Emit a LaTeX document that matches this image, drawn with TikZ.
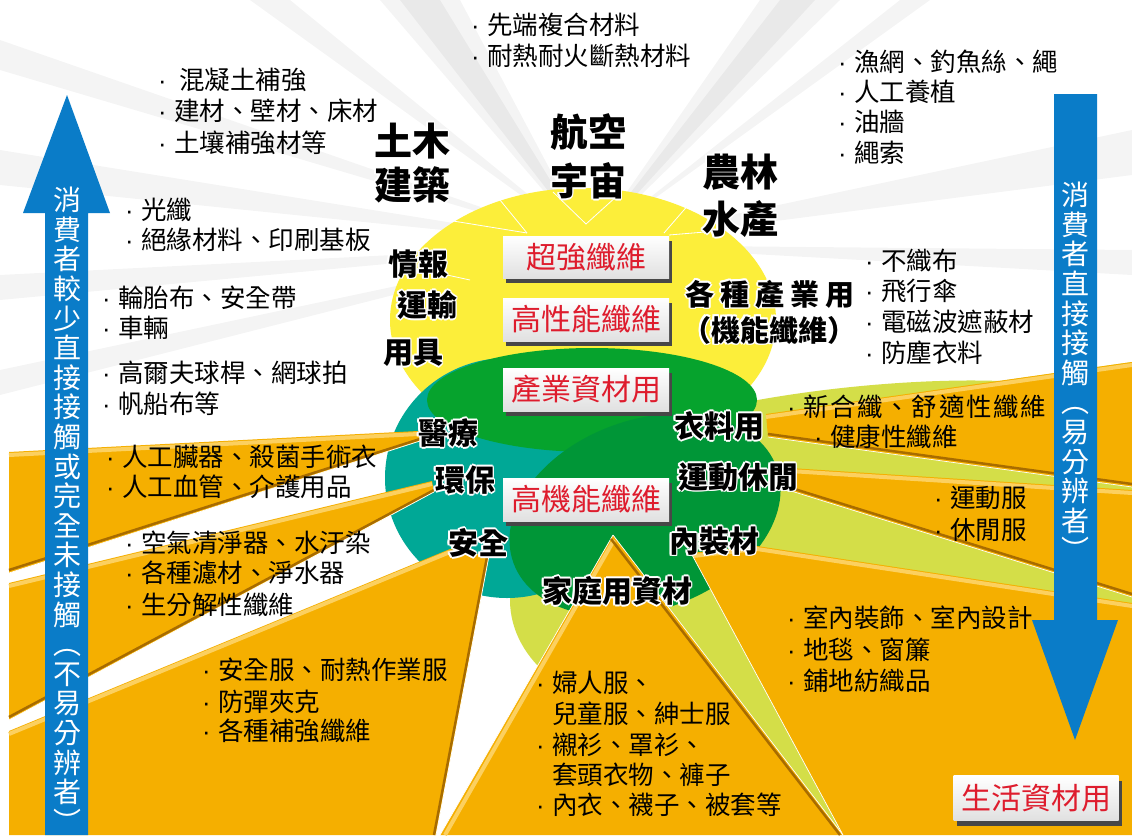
\documentclass[tikz,border=0pt]{standalone}
\usepackage{fontspec}
\setmainfont{Noto Sans CJK TC}
\newfontfamily\latinf{Liberation Sans}
\usetikzlibrary{shadows}
\definecolor{org}{RGB}{245,175,0}
\definecolor{orgl}{RGB}{252,208,95}
\definecolor{orgd}{RGB}{168,108,0}
\definecolor{yel}{RGB}{252,238,58}
\definecolor{grn}{RGB}{6,163,45}
\definecolor{dgrn}{RGB}{0,150,55}
\definecolor{tealc}{RGB}{0,168,150}
\definecolor{lgrn}{RGB}{212,222,72}
\definecolor{blu}{RGB}{10,124,200}
\definecolor{redt}{RGB}{222,28,45}
\newcommand\bul{\makebox[15pt][l]{\hspace{-1pt}{\latinf ·}}}
\newcommand\lsp{\hspace{1.7pt}}
\newcommand\ho[1]{\leavevmode\rlap{\textcolor{white}{%
\rlap{\kern1.7pt #1}\rlap{\kern-1.7pt #1}%
\rlap{\raisebox{1.7pt}{#1}}\rlap{\raisebox{-1.7pt}{#1}}%
\rlap{\kern1.2pt\raisebox{1.2pt}{#1}}\rlap{\kern-1.2pt\raisebox{1.2pt}{#1}}%
\rlap{\kern1.2pt\raisebox{-1.2pt}{#1}}\rlap{\kern-1.2pt\raisebox{-1.2pt}{#1}}}}#1}
\tikzset{
  txt/.style={anchor=west, inner sep=0pt, font=\fontsize{25.5}{30}\selectfont},
  lab/.style={inner sep=0pt, font=\fontsize{30}{36}\selectfont\bfseries},
  biglab/.style={inner sep=0pt, font=\fontsize{38}{44}\selectfont\bfseries},
  redbox/.style={top color=white, bottom color=black!12, text=redt,
    minimum width=166pt, minimum height=42pt, inner sep=0pt,
    font=\fontsize{30}{36}\selectfont,
    drop shadow={shadow xshift=3pt, shadow yshift=-5pt, fill=black!72, opacity=1}},
  vtxt/.style={anchor=north, inner sep=0pt, align=center, text=white,
    font=\fontsize{28}{29.6}\selectfont},
  orgfill/.style={fill=org},
  bevl/.style={draw=orgl, line width=4pt},
  shad/.style={draw=orgd, line width=2.5pt},
  hair/.style={draw=white, line width=0.7pt},
  ray/.style={fill=black, opacity=0.045},
  wline/.style={draw=white, line width=0.8pt},
}
\begin{document}
\begin{tikzpicture}[x=1pt,y=-1pt]
\useasboundingbox (0,0) rectangle (1132,835);
\fill[white] (0,0) rectangle (1132,835);
\begin{scope}
\clip (0,0) rectangle (1132,835);
% soft grey rays
\foreach \xa/\ya/\xb/\yb in {380/0/460/0, 400/0/440/0, 250/0/290/0, 760/0/840/0, 780/0/815/0, 900/0/930/0,
  1132/130/1132/175, 1132/250/1132/275, 0/150/0/185, 0/275/0/300, 0/370/0/395, 0/40/0/70}
  {\fill[ray] (590,245) -- (\xa,\ya) -- (\xb,\yb) -- cycle;}
% light green fan on the right
\fill[lgrn] (700,412) .. controls (800,388) and (920,378) .. (1000,381)
  -- (1132,362) -- (1132,612) -- (700,565) -- cycle;
% circles
\fill[yel] (583,320) ellipse [x radius=193pt, y radius=132pt];
\fill[lgrn] (650,600) ellipse [x radius=140pt, y radius=110pt];
\fill[lgrn] (613,535) -- (843,835) -- (691,553) -- cycle;
\fill[tealc] (507,478) ellipse [x radius=122pt, y radius=120pt];
\fill[grn] (592,400) ellipse [x radius=165pt, y radius=52pt];
\fill[dgrn, rotate around={20:(645,515)}] (645,515) ellipse [x radius=140pt, y radius=95pt];
% white light lines on the yellow
\draw[wline] (453,221) -- (527,233);
\draw[wline] (500,200) -- (527,233);
\draw[wline] (553,192) -- (586,224) -- (617,196);
\draw[wline] (690,203) -- (664,233);
\draw[wline] (669,235) -- (705,232);
\draw[wline] (447,275) -- (470,280);
% orange wedges, left
\fill[orgfill] (9,452) -- (418,431) -- (420,441) -- (9,573) -- cycle;
\draw[bevl] (9,455) -- (418,434);
\draw[shad] (9,570) -- (420,439);
\draw[hair] (9,573) -- (420,441);
\fill[orgfill] (9,583) -- (432,481) -- (434,492) -- (9,720) -- cycle;
\draw[bevl] (9,586) -- (432,484);
\draw[shad] (9,717) -- (434,490);
\draw[hair] (9,720) -- (434,492);
\fill[orgfill] (9,731) -- (450,549) -- (489,556) -- (436,835) -- (9,835) -- cycle;
\draw[bevl] (9,734) -- (450,552);
\draw[shad] (487,557) -- (434,835);
\draw[hair] (489,556) -- (436,835);
% orange triangle, bottom
\fill[orgfill] (613,535) -- (843,835) -- (440,835) -- cycle;
\draw[bevl] (614,540) -- (445,835);
\draw[hair] (613,535) -- (440,835);
\draw[shad] (611,539) -- (840,835);
\draw[hair] (613,535) -- (843,835);
% orange wedges, right
\fill[orgfill] (691,553) -- (757,546) -- (1132,603) -- (1132,835) -- (843,835) -- cycle;
\draw[bevl] (693,556) -- (757,549) -- (1132,606);
\draw[hair] (691,553) -- (843,835);
\fill[orgfill] (766,414) -- (1132,362) -- (1132,487) -- (768,437) -- cycle;
\draw[bevl] (766,417) -- (1132,365);
\draw[shad] (768,434) -- (1132,484);
\draw[hair] (768,437) -- (1132,487);
\fill[orgfill] (790,468) -- (1132,490) -- (1132,597) -- (788,490) -- cycle;
\draw[bevl] (790,471) -- (1132,493);
\draw[shad] (788,487) -- (1132,594);
\draw[hair] (788,490) -- (1132,597);
% blue arrows
\fill[blu] (67,95) -- (110,213) -- (88,213) -- (88,835) -- (45,835) -- (45,213) -- (23,213) -- cycle;
\fill[blu] (1075,740) -- (1118,620) -- (1097,620) -- (1097,94) -- (1054,94) -- (1054,620) -- (1032,620) -- cycle;
\end{scope}
% arrow texts
\node[vtxt] (lefttxt) at (67,187) {消\\費\\者\\較\\少\\直\\接\\接\\觸\\或\\完\\全\\未\\接\\觸\\︵\\不\\易\\分\\辨\\者\\︶};
\node[vtxt] (righttxt) at (1075,182) {消\\費\\者\\直\\接\\接\\觸\\︵\\易\\分\\辨\\者\\︶};
% red boxes
\node[redbox] (b1) at (586,257) {超強纖維};
\node[redbox, minimum height=43pt] (b2) at (586,319.5) {高性能纖維};
\node[redbox, minimum height=43pt] (b3) at (586,389.5) {產業資材用};
\node[redbox, minimum height=43pt] (b4) at (586,499.5) {高機能纖維};
\node[redbox, minimum width=165pt, minimum height=45pt] (b5) at (1036,798) {生活資材用};
% big labels
\node[biglab] (l1a) at (412,141) {\ho{土木}};
\node[biglab] (l1b) at (412,185) {\ho{建築}};
\node[biglab] (l2a) at (588,132) {\ho{航空}};
\node[biglab] (l2b) at (588,181) {\ho{宇宙}};
\node[biglab] (l3a) at (740,172) {\ho{農林}};
\node[biglab] (l3b) at (740,219) {\ho{水產}};
% medium labels
\node[lab] (m1) at (418,264) {\ho{情報}};
\node[lab] (m2) at (427,305) {\ho{運輸}};
\node[lab] (m3) at (413,353) {\ho{用具}};
\node[lab] (m4) at (448,433) {\ho{醫療}};
\node[lab] (m5) at (465,480) {\ho{環保}};
\node[lab] (m6) at (478,543) {\ho{安全}};
\node[lab] (m7) at (719,426) {\ho{衣料用}};
\node[lab] (m8) at (738,477) {\ho{運動休閒}};
\node[lab] (m9) at (714,541) {\ho{內裝材}};
\node[lab] (m10) at (617,591) {\ho{家庭用資材}};
\node[lab, font=\fontsize{29}{34}\selectfont\bfseries] (m11) at (770,294) {\ho{各\hspace{6pt}種\hspace{6pt}產\hspace{6pt}業\hspace{6pt}用}};
\node[lab, font=\fontsize{29}{34}\selectfont\bfseries] (m12) at (769,330) {\ho{（機能纖維）}};
% bullet texts
\node[txt] (t1) at (472,25) {\bul 先端複合材料};
\node[txt] (t2) at (472,56) {\bul 耐熱耐火斷熱材料};
\node[txt] (t3) at (159,80) {\bul\hspace{5pt}混凝土補強};
\node[txt] (t4) at (159,111) {\bul 建材、壁材、床材};
\node[txt] (t5) at (159,143) {\bul 土壤補強材等};
\node[txt] (t6) at (126,210) {\bul 光纖};
\node[txt] (t7) at (126,240) {\bul 絕緣材料、印刷基板};
\node[txt] (t8) at (103,298) {\bul 輪胎布、安全帶};
\node[txt] (t9) at (103,328) {\bul 車輛};
\node[txt] (t10) at (103,373) {\bul 高爾夫球桿、網球拍};
\node[txt] (t11) at (103,404) {\bul 帆船布等};
\node[txt] (t12) at (107,457) {\bul 人工臟器、殺菌手術衣};
\node[txt] (t13) at (107,487) {\bul 人工血管、介護用品};
\node[txt] (t14) at (126,543) {\bul 空氣清淨器、水汙染};
\node[txt] (t15) at (126,573) {\bul 各種濾材、淨水器};
\node[txt] (t16) at (126,605) {\bul 生分解性纖維};
\node[txt] (t17) at (203,670) {\bul 安全服、耐熱作業服};
\node[txt] (t18) at (203,702) {\bul 防彈夾克};
\node[txt] (t19) at (203,731) {\bul 各種補強纖維};
\node[txt] (t20) at (839,62) {\bul 漁網、釣魚絲、繩};
\node[txt] (t21) at (839,92) {\bul 人工養植};
\node[txt] (t22) at (839,122) {\bul 油牆};
\node[txt] (t23) at (839,153) {\bul 繩索};
\node[txt] (t24) at (866,261) {\bul 不織布};
\node[txt] (t25) at (866,291) {\bul 飛行傘};
\node[txt] (t26) at (866,322) {\bul 電磁波遮蔽材};
\node[txt] (t27) at (866,353) {\bul 防塵衣料};
\node[txt] (t28) at (788,407) {\bul 新\lsp 合\lsp 纖\lsp 、\lsp 舒\lsp 適\lsp 性\lsp 纖\lsp 維};
\node[txt] (t29) at (815,437) {\bul 健康性纖維};
\node[txt] (t30) at (935,498) {\bul 運動服};
\node[txt] (t31) at (935,530) {\bul 休閒服};
\node[txt] (t32) at (788,618) {\bul 室內裝飾、室內設計};
\node[txt] (t33) at (788,650) {\bul 地毯、窗簾};
\node[txt] (t34) at (788,681) {\bul 鋪地紡織品};
\node[txt] (t35) at (537,683) {\bul 婦人服、};
\node[txt] (t36) at (537,714) {\hspace{15pt}兒童服、紳士服};
\node[txt] (t37) at (537,745) {\bul 襯衫、罩衫、};
\node[txt] (t38) at (537,775) {\hspace{15pt}套頭衣物、褲子};
\node[txt] (t39) at (537,805) {\bul 內衣、襪子、被套等};
\end{tikzpicture}
\end{document}
